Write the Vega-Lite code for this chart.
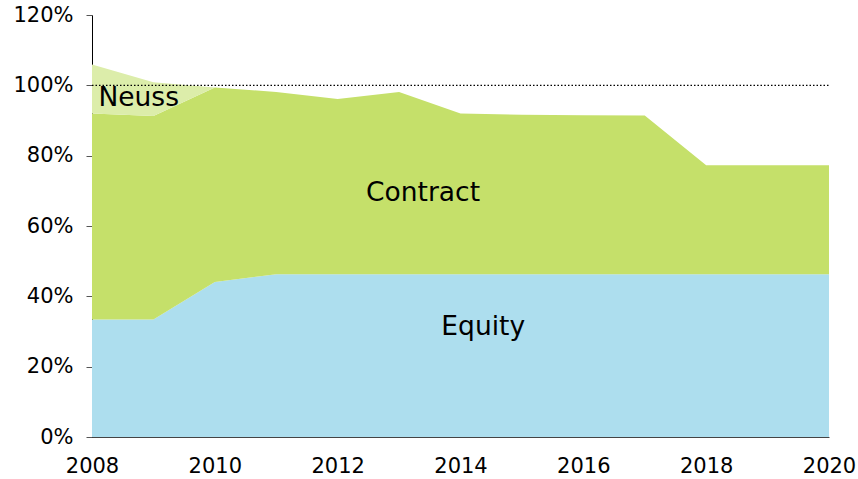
{
  "$schema": "https://vega.github.io/schema/vega-lite/v6.json",
  "width": 737,
  "height": 422,
  "autosize": {"type": "none"},
  "padding": {"left": 92, "top": 15, "right": 29, "bottom": 42},
  "background": "white",
  "config": {
    "view": {"stroke": null},
    "font": "DejaVu Sans",
    "axis": {"labelFont": "DejaVu Sans", "labelFontSize": 21, "labelColor": "#000000", "grid": false, "title": null, "domainColor": "#000000", "tickColor": "#555555"}
  },
  "datasets": {
    "shares": [
      {"year": 2008, "type": "Equity", "ord": 1, "value": 33.4},
      {"year": 2009, "type": "Equity", "ord": 1, "value": 33.4},
      {"year": 2010, "type": "Equity", "ord": 1, "value": 44.1},
      {"year": 2011, "type": "Equity", "ord": 1, "value": 46.3},
      {"year": 2012, "type": "Equity", "ord": 1, "value": 46.3},
      {"year": 2013, "type": "Equity", "ord": 1, "value": 46.3},
      {"year": 2014, "type": "Equity", "ord": 1, "value": 46.3},
      {"year": 2015, "type": "Equity", "ord": 1, "value": 46.3},
      {"year": 2016, "type": "Equity", "ord": 1, "value": 46.3},
      {"year": 2017, "type": "Equity", "ord": 1, "value": 46.3},
      {"year": 2018, "type": "Equity", "ord": 1, "value": 46.3},
      {"year": 2019, "type": "Equity", "ord": 1, "value": 46.3},
      {"year": 2020, "type": "Equity", "ord": 1, "value": 46.3},
      {"year": 2008, "type": "Contract", "ord": 2, "value": 58.6},
      {"year": 2009, "type": "Contract", "ord": 2, "value": 57.9},
      {"year": 2010, "type": "Contract", "ord": 2, "value": 55.3},
      {"year": 2011, "type": "Contract", "ord": 2, "value": 51.8},
      {"year": 2012, "type": "Contract", "ord": 2, "value": 49.8},
      {"year": 2013, "type": "Contract", "ord": 2, "value": 51.8},
      {"year": 2014, "type": "Contract", "ord": 2, "value": 45.7},
      {"year": 2015, "type": "Contract", "ord": 2, "value": 45.3},
      {"year": 2016, "type": "Contract", "ord": 2, "value": 45.2},
      {"year": 2017, "type": "Contract", "ord": 2, "value": 45.1},
      {"year": 2018, "type": "Contract", "ord": 2, "value": 31.0},
      {"year": 2019, "type": "Contract", "ord": 2, "value": 31.0},
      {"year": 2020, "type": "Contract", "ord": 2, "value": 31.0},
      {"year": 2008, "type": "Neuss", "ord": 3, "value": 13.9},
      {"year": 2009, "type": "Neuss", "ord": 3, "value": 9.6},
      {"year": 2010, "type": "Neuss", "ord": 3, "value": 0},
      {"year": 2011, "type": "Neuss", "ord": 3, "value": 0},
      {"year": 2012, "type": "Neuss", "ord": 3, "value": 0},
      {"year": 2013, "type": "Neuss", "ord": 3, "value": 0},
      {"year": 2014, "type": "Neuss", "ord": 3, "value": 0},
      {"year": 2015, "type": "Neuss", "ord": 3, "value": 0},
      {"year": 2016, "type": "Neuss", "ord": 3, "value": 0},
      {"year": 2017, "type": "Neuss", "ord": 3, "value": 0},
      {"year": 2018, "type": "Neuss", "ord": 3, "value": 0},
      {"year": 2019, "type": "Neuss", "ord": 3, "value": 0},
      {"year": 2020, "type": "Neuss", "ord": 3, "value": 0}
    ],
    "labels": [
      {"label": "Neuss", "year": 2008.76, "value": 96.4},
      {"label": "Contract", "year": 2013.39, "value": 69.5},
      {"label": "Equity", "year": 2014.37, "value": 31.4}
    ],
    "ref": [{"from": 2008, "to": 2020, "value": 100}]
  },
  "layer": [
    {
      "data": {"name": "shares"},
      "mark": {"type": "area", "interpolate": "linear"},
      "encoding": {
        "x": {"field": "year", "type": "quantitative", "scale": {"domain": [2008, 2020], "nice": false, "zero": false},
              "axis": {"values": [2008, 2010, 2012, 2014, 2016, 2018, 2020], "format": "d", "ticks": false, "labelPadding": 18, "domainColor": "#444444", "labelFlush": false}},
        "y": {"field": "value", "type": "quantitative", "stack": "zero", "scale": {"domain": [0, 120], "nice": false},
              "axis": {"values": [0, 20, 40, 60, 80, 100, 120], "labelExpr": "datum.value + '%'", "tickSize": 6, "labelPadding": 13}},
        "color": {"field": "type", "type": "nominal", "legend": null,
                  "scale": {"domain": ["Equity", "Contract", "Neuss"], "range": ["#ADDEEE", "#C5E06A", "#DCEDAA"]}},
        "order": {"field": "ord", "type": "quantitative"}
      }
    },
    {
      "data": {"name": "ref"},
      "mark": {"type": "rule", "color": "#000000", "strokeDash": [1.5, 2], "strokeWidth": 1.2},
      "encoding": {
        "x": {"field": "from", "type": "quantitative"},
        "x2": {"field": "to"},
        "y": {"field": "value", "type": "quantitative"}
      }
    },
    {
      "data": {"name": "labels"},
      "mark": {"type": "text", "fontSize": 26.5, "font": "DejaVu Sans", "color": "#000000", "align": "center", "baseline": "middle"},
      "encoding": {
        "x": {"field": "year", "type": "quantitative"},
        "y": {"field": "value", "type": "quantitative"},
        "text": {"field": "label"}
      }
    }
  ]
}
